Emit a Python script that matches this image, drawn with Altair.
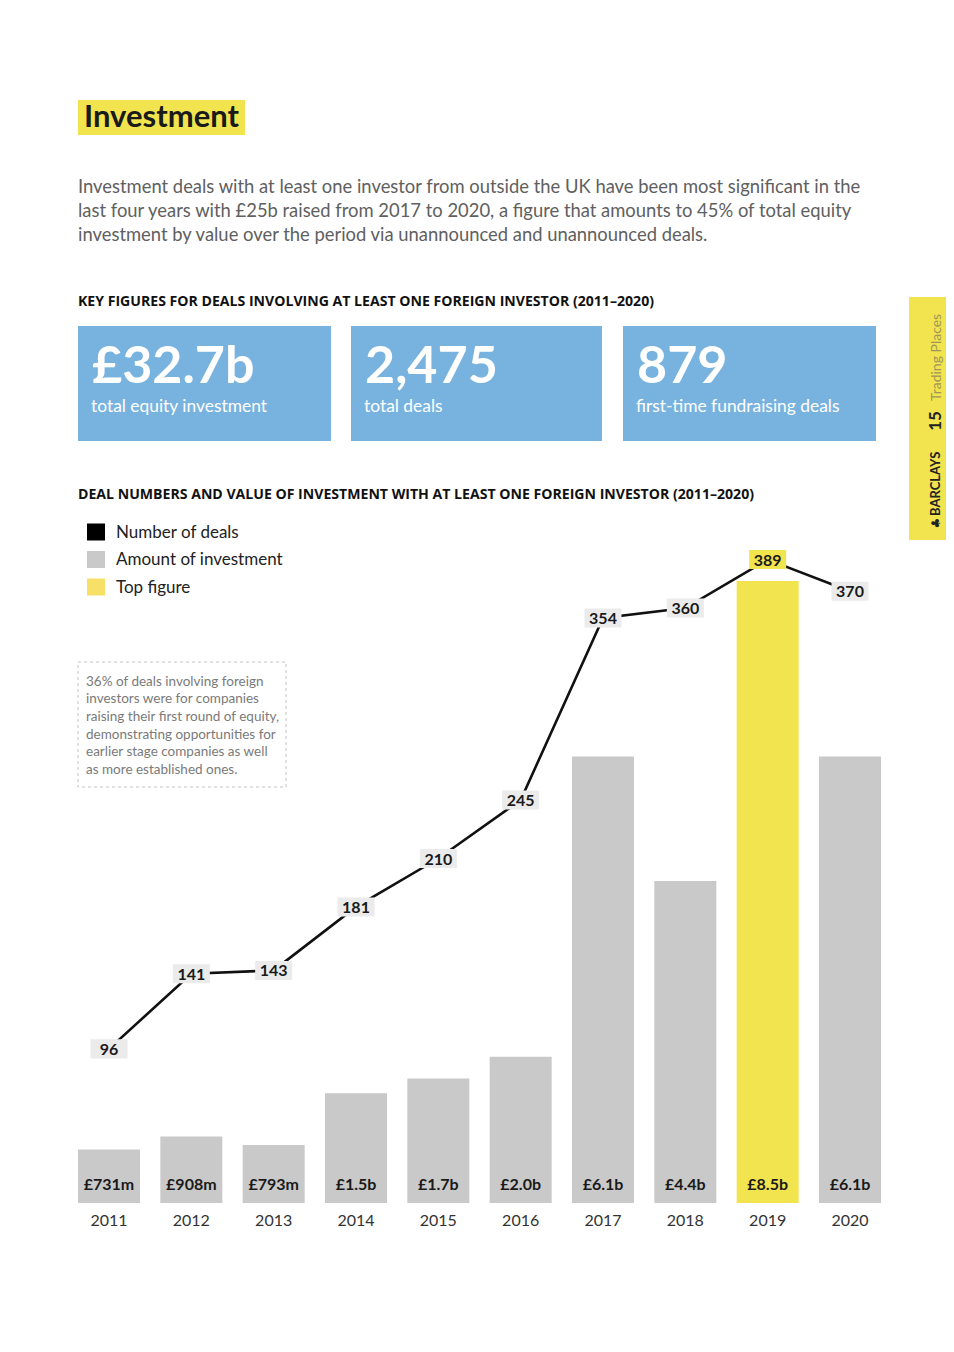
import altair as alt
import pandas as pd

# ---------------- data ----------------
years = [2011, 2012, 2013, 2014, 2015, 2016, 2017, 2018, 2019, 2020]
deals = [96, 141, 143, 181, 210, 245, 354, 360, 389, 370]
amount_bn = [0.731, 0.908, 0.793, 1.5, 1.7, 2.0, 6.1, 4.4, 8.5, 6.1]
amount_labels = ["£731m", "£908m", "£793m", "£1.5b", "£1.7b", "£2.0b", "£6.1b", "£4.4b", "£8.5b", "£6.1b"]

kpi_values = ["£32.7b", "2,475", "879"]
kpi_labels = ["total equity investment", "total deals", "first-time fundraising deals"]
legend_labels = ["Number of deals", "Amount of investment", "Top figure"]

title = "Investment"
intro = [
    "Investment deals with at least one investor from outside the UK have been most significant in the",
    "last four years with £25b raised from 2017 to 2020, a figure that amounts to 45% of total equity",
    "investment by value over the period via unannounced and unannounced deals.",
]
sub1 = "KEY FIGURES FOR DEALS INVOLVING AT LEAST ONE FOREIGN INVESTOR (2011–2020)"
sub2 = "DEAL NUMBERS AND VALUE OF INVESTMENT WITH AT LEAST ONE FOREIGN INVESTOR (2011–2020)"
note = [
    "36% of deals involving foreign",
    "investors were for companies",
    "raising their first round of equity,",
    "demonstrating opportunities for",
    "earlier stage companies as well",
    "as more established ones.",
]

# ---------------- style ----------------
FONT = "Lato"
YELLOW = "#f2e44e"
GREY = "#c9c9c9"
LABEL_BG = "#ebebeb"
BLUE = "#78b3e0"
DARK = "#1a1a1a"
legend_colors = ["#000000", GREY, "#f6e065"]

W, H = 938, 1320

df = pd.DataFrame({"year": years, "deals": deals, "amount": amount_bn, "label": amount_labels})
dummy = pd.DataFrame({"d": [0]})

x_scale = alt.Scale(domain=[2011, 2020], range=[101, 842], nice=False, zero=False, padding=0)
y_bar = alt.Scale(domain=[0, 8.5], range=[1195, 573], nice=False, zero=True)
y_deal = alt.Scale(domain=[0, 400], range=[1201.2, 533.2], nice=False, zero=True)

X = alt.X("year:Q", scale=x_scale, axis=None)

base = alt.Chart(df).transform_joinaggregate(
    max_amount="max(amount)", max_deals="max(deals)"
).transform_calculate(
    top_amount="datum.amount === datum.max_amount",
    top_deals="datum.deals === datum.max_deals",
    zero="0",
)

bars = base.mark_bar(size=62).encode(
    x=X,
    y=alt.Y("amount:Q", scale=y_bar, axis=None),
    color=alt.condition("datum.top_amount", alt.value(YELLOW), alt.value(GREY)),
)

bar_text = base.mark_text(
    font=FONT, fontSize=16, fontWeight="bold", color=DARK, baseline="middle", dy=-18
).encode(x=X, y=alt.Y("zero:Q", scale=y_bar, axis=None), text="label:N")

year_text = base.mark_text(
    font=FONT, fontSize=16, color="#333333", baseline="middle", dy=18
).encode(x=X, y=alt.Y("zero:Q", scale=y_bar, axis=None), text="year:N")

line = base.mark_line(color="#111111", strokeWidth=2.6).encode(
    x=X, y=alt.Y("deals:Q", scale=y_deal, axis=None)
)

boxes = base.mark_point(
    shape="M-1,-0.514L1,-0.514L1,0.514L-1,0.514Z", size=1369, filled=True, opacity=1, strokeWidth=0
).encode(
    x=X,
    y=alt.Y("deals:Q", scale=y_deal, axis=None),
    color=alt.condition("datum.top_deals", alt.value(YELLOW), alt.value(LABEL_BG)),
)

deal_text = base.mark_text(
    font=FONT, fontSize=16, fontWeight="bold", color=DARK, baseline="middle", dy=1
).encode(x=X, y=alt.Y("deals:Q", scale=y_deal, axis=None), text="deals:Q")


def rect(x, x2, y, y2, fill, **kw):
    return alt.Chart(dummy).mark_rect(fill=fill, **kw).encode(
        x=alt.value(x), x2=alt.value(x2), y=alt.value(y), y2=alt.value(y2)
    )


def text(t, x, y, size, color=DARK, weight="normal", align="left", baseline="middle", **kw):
    return alt.Chart(dummy).mark_text(
        text=t, fontSize=size, color=color, fontWeight=weight, align=align,
        baseline=baseline, font=kw.pop("font", FONT), **kw
    ).encode(x=alt.value(x), y=alt.value(y))


deco = []
# title
deco.append(rect(70, 237, 92, 127, YELLOW))
deco.append(text(title, 76, 110, 31, color=DARK, weight="bold"))
# intro paragraph
deco.append(text(intro, 70, 179, 18.4, color="#606060", lineHeight=24))
# subtitle 1
deco.append(text(sub1, 70, 294, 14.1, color="#111111", weight="bold", font="Open Sans"))
# KPI boxes
kpi_x = [(70, 323), (343, 594), (615, 868)]
for (x0, x1), v, lab in zip(kpi_x, kpi_values, kpi_labels):
    deco.append(rect(x0, x1, 318, 433, BLUE))
    deco.append(text(v, x0 + 14, 375, 52, color="white", weight="bold", baseline="alphabetic"))
    deco.append(text(lab, x0 + 13, 398.5, 17.4, color="white"))
# subtitle 2
deco.append(text(sub2, 70, 487, 14.1, color="#111111", weight="bold", font="Open Sans"))
# legend
for i, (lab, col) in enumerate(zip(legend_labels, legend_colors)):
    yc = 524 + i * 27.5
    deco.append(rect(79, 97, yc - 8.5, yc + 8.5, col))
    deco.append(text(lab, 108, yc + 0.5, 17, color="#222222"))
# annotation box
deco.append(
    alt.Chart(dummy).mark_rect(fill="white", fillOpacity=0, stroke="#c4c4c4", strokeWidth=1, strokeDash=[3, 3]).encode(
        x=alt.value(70), x2=alt.value(278), y=alt.value(654), y2=alt.value(779)
    )
)
deco.append(text(note, 78, 673.5, 13.5, color="#7a7a7a", lineHeight=17.7))
# right tab
deco.append(rect(901, 938, 289, 532, YELLOW))
deco.append(text("♣", 928, 515, 12, color="#222222", angle=270, align="center", font="DejaVu Sans"))
deco.append(text("BARCLAYS", 928, 508, 13, color="#222222", weight="bold", angle=270))
deco.append(text("15", 928, 413, 17, color="#222222", weight="bold", angle=270, align="center"))
deco.append(text("Trading Places", 929, 393, 14, color="#a0955a", angle=270))

chart = alt.layer(
    bars, line, boxes, deal_text, bar_text, year_text, *deco
).resolve_scale(y="independent").properties(
    width=W, height=H, padding=0, autosize=alt.AutoSizeParams(type="none")
).configure_view(stroke=None)

chart.save("out.html", embed_options={"renderer": "svg", "actions": False})
